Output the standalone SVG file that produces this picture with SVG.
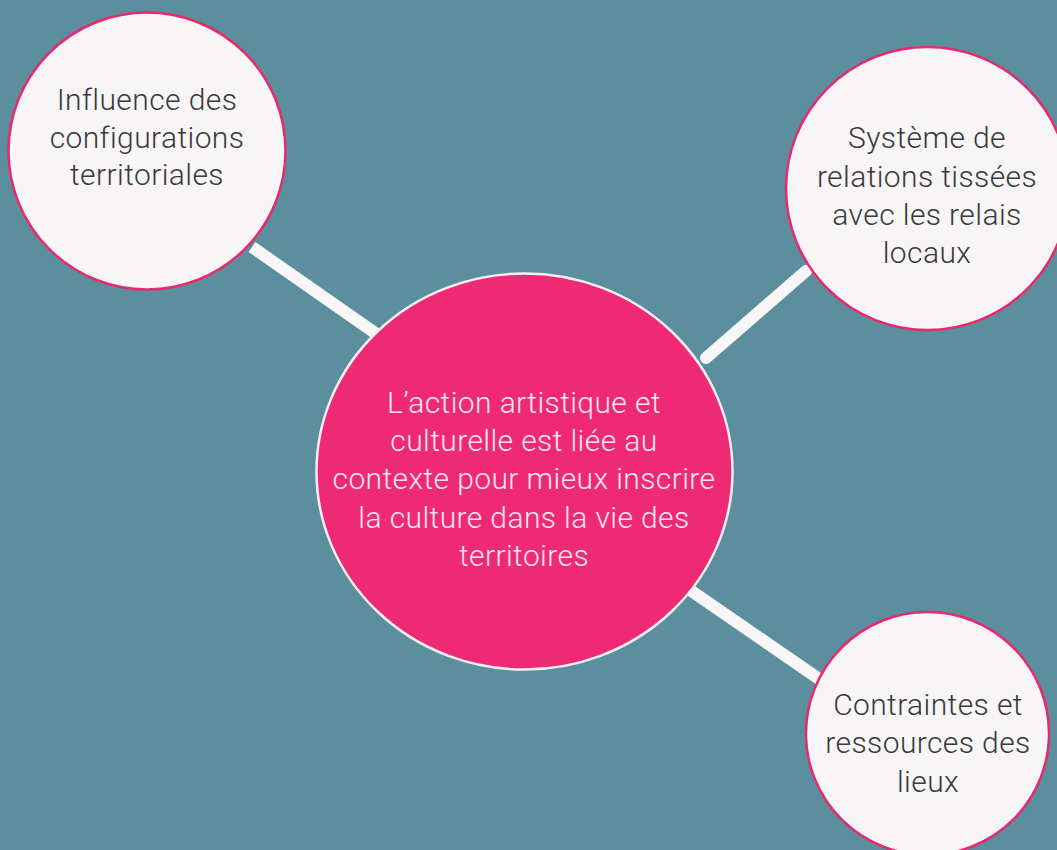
<svg xmlns="http://www.w3.org/2000/svg" width="1057" height="850" viewBox="0 0 1057 850">
<style>
.bg{fill:#5b8f9e}
.conn{stroke:#f8f6f6;stroke-width:12;fill:none}
.node{fill:#f7f5f6;stroke:#e8286f;stroke-width:2.5}
.hub{fill:#ee2a74;stroke:#f7eef3;stroke-width:2.5}
text{font-family:Roboto,"Liberation Sans",sans-serif;font-weight:300;font-size:30px;letter-spacing:0.4px;text-anchor:middle}
.dark{fill:#3a3a3a}
.light{fill:#fde6ef}
</style>
<rect class="bg" x="0" y="0" width="1057" height="850"/>
<g id="connectors">
<line class="conn" x1="252" y1="247" x2="378" y2="335" stroke-linecap="butt"/>
<line class="conn" x1="706" y1="358" x2="806" y2="271" stroke-linecap="round"/>
<line class="conn" x1="690" y1="590" x2="822" y2="681" stroke-linecap="butt"/>
</g>
<g id="node-influence">
<circle class="node" cx="147" cy="151" r="138.5"/>
<text class="dark" x="147" y="110">Influence des</text>
<text class="dark" x="147" y="147.5">configurations</text>
<text class="dark" x="147" y="185">territoriales</text>
</g>
<g id="node-systeme">
<circle class="node" cx="927.5" cy="188.5" r="141.5"/>
<text class="dark" x="927" y="148">Système de</text>
<text class="dark" x="927" y="187">relations tissées</text>
<text class="dark" x="927" y="225">avec les relais</text>
<text class="dark" x="927" y="263">locaux</text>
</g>
<g id="node-contraintes">
<circle class="node" cx="927.5" cy="733.5" r="121.5"/>
<text class="dark" x="928" y="715">Contraintes et</text>
<text class="dark" x="928" y="753">ressources des</text>
<text class="dark" x="928" y="792">lieux</text>
</g>
<g id="node-hub">
<ellipse class="hub" cx="524.5" cy="471.5" rx="208" ry="198"/>
<text class="light" x="524" y="413">L’action artistique et</text>
<text class="light" x="524" y="451">culturelle est liée au</text>
<text class="light" x="524" y="489">contexte pour mieux inscrire</text>
<text class="light" x="524" y="528">la culture dans la vie des</text>
<text class="light" x="524" y="566">territoires</text>
</g>
</svg>
